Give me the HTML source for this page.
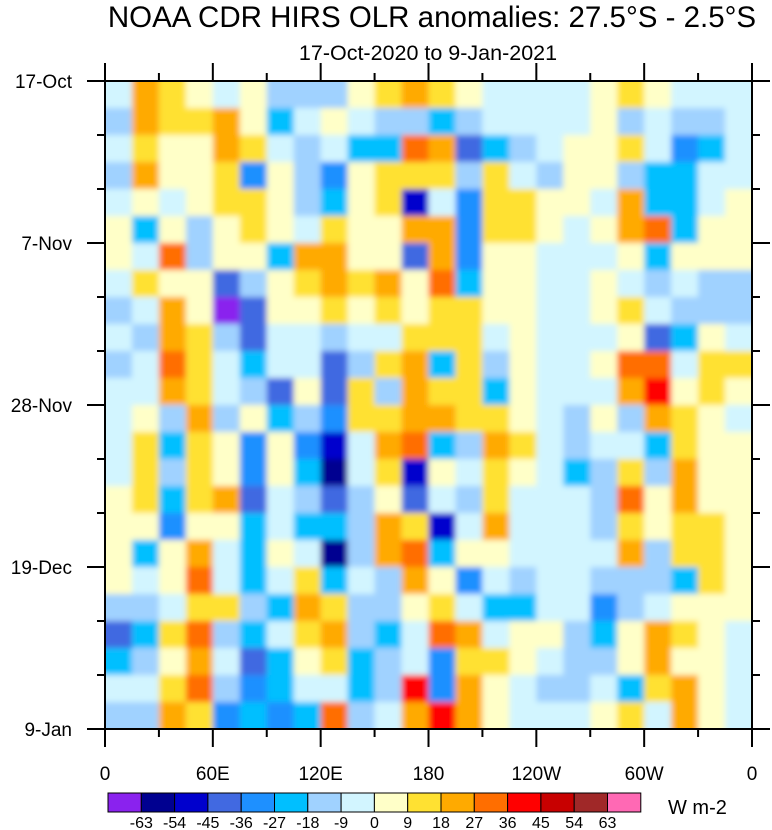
<!DOCTYPE html>
<html><head><meta charset="utf-8"><style>
body{margin:0;background:#fff;width:772px;height:830px;overflow:hidden;font-family:"Liberation Sans",Arial,sans-serif}
svg{display:block}
</style></head><body>
<svg id="chart" width="772" height="830" xmlns="http://www.w3.org/2000/svg">
<defs>
<filter id="soft" x="0" y="0" width="1" height="1"><feGaussianBlur stdDeviation="3" edgeMode="duplicate"/></filter>
<clipPath id="plotclip"><rect x="105" y="81" width="647" height="648"/></clipPath>
</defs>
<text x="432" y="27" font-size="29.5" text-anchor="middle" font-family="Liberation Sans, sans-serif">NOAA CDR HIRS OLR anomalies: 27.5°S - 2.5°S</text>
<text x="428" y="60" font-size="21.5" text-anchor="middle" font-family="Liberation Sans, sans-serif">17-Oct-2020 to 9-Jan-2021</text>
<g clip-path="url(#plotclip)"><g id="cells" filter="url(#soft)"></g></g>
<g id="axes"></g>
<g id="cbar"></g>
<text x="668" y="814" font-size="20" font-family="Liberation Sans, sans-serif">W m-2</text>
</svg>
<script>
const lonTickLabels=["0","60E","120E","180","120W","60W","0"];
const dateTickLabels=["17-Oct","7-Nov","28-Nov","19-Dec","9-Jan"];
const levels=[-63,-54,-45,-36,-27,-18,-9,0,9,18,27,36,45,54,63];
const levelColors=["#8a22ee","#000090","#0000cd","#4169e1","#1e90ff","#00bfff","#a0d2ff","#d2f5ff","#ffffc8","#ffe132","#ffaa00","#ff6e00","#ff0000","#c80000","#a02828","#ff69b4"];
const grid=[
[-5,22,14,5,-5,5,-14,-14,-14,5,14,22, 14,5,-5,-5,-5,-5,5,14,5,-5,-5,-5],
[-14,22,14,14,22,5,-22,-5,5,-5,-14,-14, -22,-14,-5,-5,-5,-5,5,-14,-5,-14,-14,-5],
[-5,14,5,5,22,14,-5,-14,-5,-22,-22,31, 22,-40,-22,-14,-5,5,5,14,-5,-31,-22,-5],
[-14,22,5,5,14,-31,5,-14,-31,5,14,14, 14,-14,14,-5,-14,5,5,-14,-22,-22,-5,-5],
[-5,5,-5,5,14,14,5,-14,-22,5,14,-50, -5,-31,14,14,5,5,-5,22,-22,-22,-5,5],
[5,-22,5,-14,5,14,5,-5,14,5,5,22, 22,-31,14,14,5,-5,5,22,31,-22,5,5],
[5,-5,31,-14,5,5,-22,22,22,5,5,-40, 22,-31,5,5,-5,-5,-5,5,-22,5,5,5],
[-5,14,5,5,-40,-14,5,14,22,14,22,5, 31,-22,5,5,-5,-5,5,-5,-14,-5,-14,-14],
[-14,-5,22,5,-70,-40,5,5,14,5,14,5, 14,14,5,5,-5,-5,5,14,-5,-14,-14,-14],
[-5,-14,22,14,-14,-40,-5,-5,-14,-5,-5,14, 14,14,-5,5,-5,-5,-5,5,-40,-22,5,-5],
[-14,-5,31,14,-5,-22,-5,-5,-40,-14,14,22, -22,14,-14,5,-5,-5,5,31,31,-5,14,14],
[-5,-5,22,14,-5,-14,-40,5,-40,14,-14,22, 14,14,-22,5,-5,-5,-5,22,40,5,14,5],
[-5,5,-14,22,-14,5,-22,-14,-31,14,14,22, 22,14,14,5,-5,-14,5,-14,22,14,5,-5],
[-5,14,-22,14,5,-31,5,-31,-50,-5,22,31, -22,-14,22,14,-5,-14,-5,-5,-22,14,5,5],
[-5,14,-14,14,5,-31,5,-22,-60,-5,14,-50, 5,-5,14,5,-5,-22,-14,14,-14,22,5,5],
[5,14,-22,14,22,-40,-5,-14,-40,-14,5,-40, -5,-14,14,-5,-5,-5,-14,31,5,22,5,5],
[5,5,-31,5,5,-22,-5,-22,-22,-14,22,14, -50,-5,22,-5,-5,-5,-14,14,5,14,14,5],
[5,-22,5,22,-5,-22,5,-5,-58,-14,22,31, -22,5,5,-5,-5,-5,-5,22,-14,14,14,5],
[5,-5,5,31,-5,-22,-5,14,-22,-5,-14,22, 5,-31,-5,-14,-5,-5,-14,-14,-14,-22,14,5],
[-14,-14,-5,14,14,-14,-22,22,14,-14,-14,5, 14,-5,-22,-22,-5,-5,-31,-14,-5,5,5,5],
[-40,-22,14,31,-14,-22,-5,14,22,-14,-22,-5, 31,22,-5,5,5,-14,-22,5,22,14,5,-5],
[-22,-14,5,22,-5,-40,-22,5,14,-22,-14,-5, -31,14,14,5,-5,-14,-14,5,22,5,5,-5],
[-5,-5,14,31,-14,-31,-22,-5,-5,-22,-14,40, -31,22,5,-5,-14,-14,-5,-22,14,22,5,-5],
[-14,-14,22,14,-31,-22,-31,-22,31,-14,-5,22, 40,22,5,-5,-5,-5,5,14,-5,22,5,-5]
];
const X0=105,X1=752,Y0=81,Y1=729;
const NS="http://www.w3.org/2000/svg";
const nCols=grid[0].length,nRows=grid.length;
function xScale(i){return X0+(X1-X0)*i/nCols;}
function yScale(j){return Y0+(Y1-Y0)*j/nRows;}
function lonX(deg){return X0+(X1-X0)*deg/360;}
function dayY(d){return Y0+(Y1-Y0)*d/84;}
function colorFor(v){let k=0;while(k<levels.length&&v>=levels[k])k++;return levelColors[k];}
function mk(tag,attrs,parent){const e=document.createElementNS(NS,tag);for(const k in attrs)e.setAttribute(k,attrs[k]);parent.appendChild(e);return e;}
const cells=document.getElementById('cells');
mk('rect',{x:X0-10,y:Y0-10,width:X1-X0+20,height:Y1-Y0+20,fill:"#d2f5ff"},cells);
for(let j=0;j<nRows;j++)for(let i=0;i<nCols;i++){
 let x=xScale(i),y=yScale(j),w=xScale(i+1)-x+0.5,h=yScale(j+1)-y+0.5;
 if(i===0){x-=10;w+=10;} if(i===nCols-1){w+=10;}
 if(j===0){y-=10;h+=10;} if(j===nRows-1){h+=10;}
 const r=mk('rect',{x:x,y:y,width:w,height:h,fill:colorFor(grid[j][i])},cells);
 
 
}
const ax=document.getElementById('axes');
const frame=mk('rect',{x:X0,y:Y0,width:X1-X0,height:Y1-Y0,fill:"none",stroke:"#000","stroke-width":2},ax);


for(let d=0;d<=360;d+=30){
 const x=lonX(d),L=(d%60===0)?18:8;
 mk('line',{x1:x,x2:x,y1:Y0,y2:Y0-L,stroke:"#000","stroke-width":2},ax);
 mk('line',{x1:x,x2:x,y1:Y1,y2:Y1+L,stroke:"#000","stroke-width":2},ax);
}
lonTickLabels.forEach((s,k)=>{
 const t=mk('text',{x:lonX(k*60),y:780,"font-size":19,"text-anchor":"middle"},ax);t.textContent=s;
 
 
});
for(let d=0;d<=84;d+=7){
 const y=dayY(d),L=(d%21===0)?18:8;
 mk('line',{x1:X0,x2:X0-L,y1:y,y2:y,stroke:"#000","stroke-width":2},ax);
 mk('line',{x1:X1,x2:X1+L,y1:y,y2:y,stroke:"#000","stroke-width":2},ax);
}
dateTickLabels.forEach((s,k)=>{
 const t=mk('text',{x:72,y:dayY(k*21)+7,"font-size":19,"text-anchor":"end"},ax);t.textContent=s;
 
 
});
const cb=document.getElementById('cbar');
const CB0=108,CBW=33.3,CBY=793,CBH=19;
levelColors.forEach((c,k)=>{
 const r=mk('rect',{x:CB0+k*CBW,y:CBY,width:CBW,height:CBH,fill:c,stroke:"#000","stroke-width":1},cb);
 
 
});
levels.forEach((v,k)=>{
 const t=mk('text',{x:CB0+(k+1)*CBW,y:828,"font-size":16,"text-anchor":"middle"},cb);t.textContent=v;
 
 
});
</script>
</body></html>
